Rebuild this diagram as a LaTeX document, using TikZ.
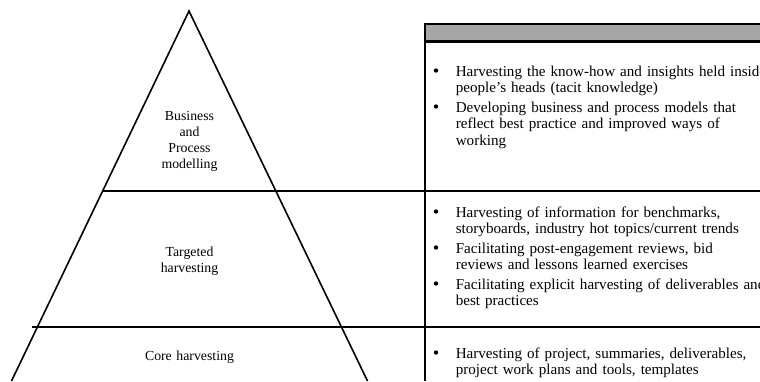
\documentclass[tikz,border=0pt]{standalone}
\usepackage{fontspec}
\setmainfont{Liberation Serif}
\usetikzlibrary{positioning,calc}
\definecolor{headgray}{RGB}{166,166,166}

\begin{document}
\begin{tikzpicture}[x=1pt,y=-1pt,line width=1.6pt,
    level/.style={text width=130pt,align=center,inner sep=0pt,anchor=base,
      font=\fontsize{13.8}{16}\selectfont},
    point/.style={text width=320pt,align=left,inner sep=0pt,anchor=base west,
      font=\fontsize{15.1}{16.5}\selectfont},
    dot/.style={circle,fill,inner sep=0pt,minimum size=4.4pt}]

  \clip (0,0) rectangle (760,381);

  % pyramid
  \coordinate (apex) at (189,11);
  \coordinate (bl) at (11.5,381);
  \coordinate (br) at (367.5,381);
  \draw (bl) -- (apex) -- (br);
  \draw ($(apex)!0.4865!(bl)$) -- (760,191);
  \draw (32,327) -- (760,327);

  % table
  \fill[headgray] (425,24) rectangle (760,41.5);
  \draw[line width=2.3pt] (425,24) -- (760,24);
  \draw[line width=3pt] (425,41.5) -- (760,41.5);
  \draw[line width=2pt] (425,23) -- (425,381);

  \node[level] (bpm) at (189.5,120) {Business\\and\\Process\\modelling};
  \node[level] (th) at (189.5,256) {Targeted\\harvesting};
  \node[level] (ch) at (189.5,360) {Core harvesting};

  \node[point] (p1a) at (455,76) {Harvesting the know-how and insights held inside\\people's heads (tacit knowledge)};
  \node[point] (p1b) at (455,112) {Developing business and process models that\\reflect best practice and improved ways of\\working};
  \node[point] (p2a) at (455,217) {Harvesting of information for benchmarks,\\storyboards, industry hot topics/current trends};
  \node[point] (p2b) at (455,253) {Facilitating post-engagement reviews, bid\\reviews and lessons learned exercises};
  \node[point] (p2c) at (455,289) {Facilitating explicit harvesting of deliverables and\\best practices};
  \node[point] (p3a) at (455,358) {Harvesting of project, summaries, deliverables,\\project work plans and tools, templates};

  \foreach \p in {p1a,p1b,p2a,p2b,p2c,p3a}
    \node[dot] (d\p) at ([xshift=-19pt,yshift=5.5pt]\p.base west) {};

\end{tikzpicture}
\end{document}
